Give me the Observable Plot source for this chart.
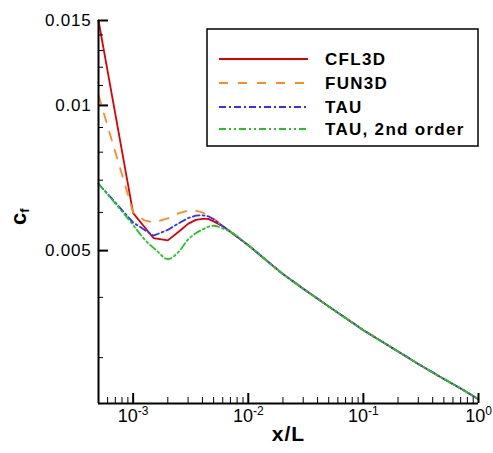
<!DOCTYPE html>
<html><head><meta charset="utf-8">
<script src="https://cdn.jsdelivr.net/npm/d3@7"></script>
<script src="https://cdn.jsdelivr.net/npm/@observablehq/plot@0.6"></script>
<style>body{margin:0;background:#fff} svg{display:block}</style>
</head><body><div id="chart"></div>
<script>
// ---- data ----
const seriesNames = ["CFL3D", "FUN3D", "TAU", "TAU, 2nd order"];
const seriesColors = ["#dc0000", "#ff8a1e", "#3030ff", "#1ec81e"];
const seriesDash = [null, "9,10", "7,3,2,3", "7,3,2,3,2,3"];

const cfl3dX  = [0.0005, 0.001, 0.0015, 0.002, 0.0025, 0.003, 0.0035, 0.004, 0.0045, 0.005];
const cfl3dCf = [0.0150, 0.00598, 0.00531, 0.00525, 0.00548, 0.00568, 0.00579, 0.00582, 0.00582, 0.00575];
const fun3dX  = [0.0005, 0.001, 0.00125, 0.0015, 0.002, 0.0025, 0.003, 0.0035, 0.004, 0.0045, 0.005];
const fun3dCf = [0.0105, 0.00600, 0.00578, 0.00572, 0.00583, 0.00598, 0.00605, 0.00605, 0.00600, 0.00592, 0.00582];
const tauX    = [0.0005, 0.001, 0.0015, 0.002, 0.0025, 0.003, 0.0035, 0.004, 0.0045, 0.005];
const tauCf   = [0.00688, 0.00572, 0.00537, 0.00552, 0.00570, 0.00584, 0.00591, 0.00592, 0.00589, 0.00581];
const tau2X   = [0.0005, 0.001, 0.00125, 0.0016, 0.002, 0.0025, 0.003, 0.0035, 0.004, 0.005, 0.006];
const tau2Cf  = [0.00688, 0.00565, 0.00528, 0.00500, 0.00480, 0.00498, 0.00527, 0.00543, 0.00553, 0.00563, 0.00556];
// shared downstream part (all four curves coincide)
const tailX   = [0.006, 0.007, 0.01, 0.02, 0.03, 0.05, 0.1, 0.2, 0.3, 0.5, 0.7, 1.0];
const tailCf  = [0.00562, 0.00547, 0.00513, 0.00447, 0.00417, 0.00383, 0.00342, 0.00309, 0.00291, 0.00271, 0.00259, 0.00246];

const xDomain = [0.0005, 1];
const yDomain = [0.00241, 0.015];
const xMajor = [0.001, 0.01, 0.1, 1];
const xMinor = [0.0006,0.0007,0.0008,0.0009, 0.002,0.003,0.004,0.005,0.006,0.007,0.008,0.009,
                0.02,0.03,0.04,0.05,0.06,0.07,0.08,0.09, 0.2,0.3,0.4,0.5,0.6,0.7,0.8,0.9];
const yMajor = [0.005, 0.01, 0.015];
const yMajorLabels = ["0.005", "0.01", "0.015"];
const yMinor = [0.003, 0.004, 0.006, 0.007, 0.008, 0.009, 0.011, 0.012, 0.013, 0.014];

// ---- build rows ----
function build(name, xs, cs) {
  const last = xs[xs.length - 1];
  const rows = xs.map((x, i) => ({series: name, x, cf: cs[i]}));
  tailX.forEach((x, i) => { if (x > last) rows.push({series: name, x, cf: tailCf[i]}); });
  return rows;
}
const rowsBySeries = [
  build(seriesNames[0], cfl3dX, cfl3dCf),
  build(seriesNames[1], fun3dX, fun3dCf),
  build(seriesNames[2], tauX, tauCf),
  build(seriesNames[3], tau2X, tau2Cf)
];
const curves = ["linear", "linear", "linear", "monotone-x"];

const W = 493, H = 453, mL = 98, mR = 15, mT = 20, mB = 50;
const innerW = W - mL - mR, innerH = H - mT - mB;
const FONT = "'Liberation Sans', Arial, sans-serif";

const chart = Plot.plot({
  width: W, height: H,
  marginLeft: mL, marginRight: mR, marginTop: mT, marginBottom: mB,
  style: {fontFamily: FONT, background: "white", color: "black"},
  x: {type: "log", domain: xDomain, axis: null},
  y: {type: "log", domain: yDomain, axis: null},
  marks: [
    ...rowsBySeries.map((rows, i) => Plot.line(rows, {
      x: "x", y: "cf", stroke: seriesColors[i], strokeWidth: 1.8,
      strokeDasharray: seriesDash[i], curve: curves[i]
    })),
    // axes lines
    Plot.ruleY([yDomain[0]], {stroke: "black", strokeWidth: 2}),
    Plot.ruleX([xDomain[0]], {stroke: "black", strokeWidth: 2}),
    // ticks (inward)
    Plot.ruleX(xMajor, {stroke: "black", strokeWidth: 2, insetTop: innerH - 10}),
    Plot.ruleX(xMinor, {stroke: "black", strokeWidth: 1, insetTop: innerH - 6}),
    Plot.ruleY(yMajor, {stroke: "black", strokeWidth: 2, insetRight: innerW - 10}),
    Plot.ruleY(yMinor, {stroke: "black", strokeWidth: 1, insetRight: innerW - 5}),
    // tick labels
    Plot.text(xMajor, {x: d => d, frameAnchor: "bottom", dy: 18, text: d => "10^" + Math.round(Math.log10(d)),
      fontSize: 18, fill: "black", textAnchor: "middle"}),
    Plot.text(yMajor, {y: d => d, frameAnchor: "left", dx: -7, text: (d, i) => yMajorLabels[i],
      fontSize: 17, fill: "black", textAnchor: "end"}),
    // axis titles
    Plot.text([0], {frameAnchor: "bottom", dy: 37, text: () => "x/L", fontSize: 21, fontWeight: "bold", fill: "black"}),
    Plot.text([0], {frameAnchor: "left", dx: -80, dy: 13, rotate: -90, text: () => "cf", fontSize: 22, fontWeight: "bold", fill: "black"})
  ]
});
document.getElementById("chart").appendChild(chart);

// ---- superscripts / subscripts as real text ----
const svg = d3.select(chart);
svg.selectAll("text").each(function () {
  const t = this.textContent;
  const sel = d3.select(this);
  if (/^10\^/.test(t)) {
    const e = t.slice(3);
    this.textContent = "";
    sel.append("tspan").text("10");
    sel.append("tspan").attr("font-size", 12).attr("dy", -7).text(e);
  } else if (t === "cf") {
    this.textContent = "";
    sel.append("tspan").text("c");
    sel.append("tspan").attr("font-size", 13).attr("dy", 3).text("f");
  } else if (t === "x/L") {
    sel.style("letter-spacing", "1px");
  } else if (/^0\.0/.test(t)) {
    sel.style("letter-spacing", "0.8px");
  }
});

// ---- legend ----
const lg = svg.append("g").attr("class", "legend");
lg.append("rect").attr("x", 207).attr("y", 29).attr("width", 271).attr("height", 117)
  .attr("fill", "white").attr("stroke", "black").attr("stroke-width", 1.5);
const rowY = [59, 83, 107, 129];
seriesNames.forEach((name, i) => {
  lg.append("line").attr("x1", 219).attr("x2", 308).attr("y1", rowY[i]).attr("y2", rowY[i])
    .attr("stroke", seriesColors[i]).attr("stroke-width", 1.8)
    .attr("stroke-dasharray", seriesDash[i]);
  lg.append("text").attr("x", 325).attr("y", rowY[i] + 6)
    .attr("text-anchor", "start")
    .attr("font-size", 17).attr("font-weight", "bold").attr("fill", "black")
    .attr("font-family", FONT).style("letter-spacing", "1.3px").text(name);
});
</script>
</body></html>
